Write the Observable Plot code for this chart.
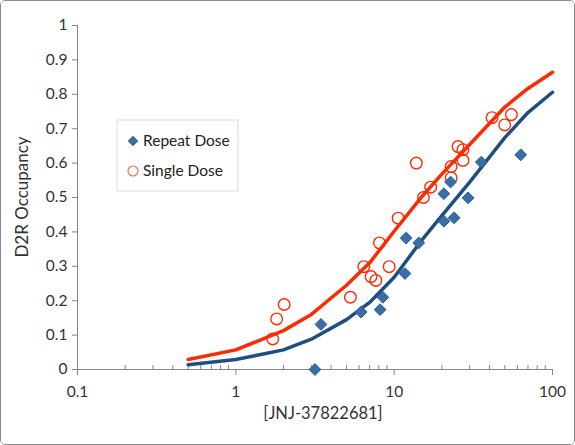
<!DOCTYPE html>
<html>
<head>
<meta charset="utf-8">
<script src="https://cdn.jsdelivr.net/npm/d3@7"></script>
<script src="https://cdn.jsdelivr.net/npm/@observablehq/plot@0.6"></script>
<style>
  html, body { margin: 0; padding: 0; background: #fff; }
  #chart { width: 575px; height: 445px; box-sizing: border-box; border: 1px solid #8a8a8a; border-radius: 5px; overflow: hidden; background: #fff; }
  #chart svg { display: block; }
</style>
</head>
<body>
<div id="chart"></div>
<script>
// Observed data: Repeat Dose (concentration, occupancy)
const repeatConc = [3.16, 3.45, 6.18, 8.15, 8.48, 11.7, 11.9, 14.3, 20.6, 23.9, 20.6, 22.7, 29.3, 35.5, 63];
const repeatOcc  = [0.0, 0.131, 0.167, 0.174, 0.21, 0.279, 0.382, 0.368, 0.431, 0.441, 0.511, 0.545, 0.499, 0.603, 0.624];

// Observed data: Single Dose
const singleConc = [1.71, 1.81, 2.02, 5.29, 6.43, 7.15, 7.66, 8.07, 9.3, 10.6, 13.8, 15.3, 17.0, 22.9, 22.9, 25.3, 27.2, 27.2, 41.5, 49.9, 55];
const singleOcc  = [0.089, 0.147, 0.189, 0.21, 0.299, 0.27, 0.259, 0.368, 0.299, 0.44, 0.6, 0.5, 0.53, 0.59, 0.557, 0.648, 0.639, 0.608, 0.732, 0.711, 0.741];

// Fitted curves
const curveConc      = [0.5, 1, 2, 3, 5, 7, 10, 15, 20, 30, 50, 70, 100];
const curveRepeatOcc = [0.014, 0.029, 0.057, 0.088, 0.145, 0.195, 0.268, 0.377, 0.447, 0.545, 0.674, 0.747, 0.806];
const curveSingleOcc = [0.029, 0.057, 0.113, 0.16, 0.245, 0.31, 0.402, 0.503, 0.568, 0.654, 0.763, 0.817, 0.864];

// Axis ticks
const xMajorTicks = [0.1, 1, 10, 100];
const xMajorLabels = ["0.1", "1", "10", "100"];
const xMinorTicks = [0.2,0.3,0.4,0.5,0.6,0.7,0.8,0.9, 2,3,4,5,6,7,8,9, 20,30,40,50,60,70,80,90];
const yTicks = [0, 0.1, 0.2, 0.3, 0.4, 0.5, 0.6, 0.7, 0.8, 0.9, 1];
const yLabels = ["0", "0.1", "0.2", "0.3", "0.4", "0.5", "0.6", "0.7", "0.8", "0.9", "1"];

const seriesNames = ["Repeat Dose", "Single Dose"];
const xTitle = "[JNJ-37822681]";
const yTitle = "D2R Occupancy";

const repeatData = repeatConc.map((c, i) => ({conc: c, occ: repeatOcc[i]}));
const singleData = singleConc.map((c, i) => ({conc: c, occ: singleOcc[i]}));
const repeatCurve = curveConc.map((c, i) => ({conc: c, occ: curveRepeatOcc[i]}));
const singleCurve = curveConc.map((c, i) => ({conc: c, occ: curveSingleOcc[i]}));

const blue = "#1f4e80";
const red = "#ff2a00";
const axisGray = "#868686";
const textColor = "#333333";
const font = "Lato, 'Open Sans', sans-serif";

const chart = Plot.plot({
  width: 573,
  height: 443,
  marginLeft: 76,
  marginRight: 22,
  marginTop: 24,
  marginBottom: 75,
  style: {fontFamily: font, fontSize: "15.5px", color: textColor, background: "#fff"},
  x: {type: "log", domain: [0.1, 100]},
  y: {domain: [0, 1]},
  marks: [
    Plot.ruleY([0], {stroke: axisGray, strokeWidth: 1}),
    Plot.ruleX([0.1], {stroke: axisGray, strokeWidth: 1}),
    Plot.ruleX(xMinorTicks, {y1: 0, y2: 0, insetTop: -4, stroke: axisGray, strokeWidth: 1}),
    Plot.axisY({ticks: yTicks, tickFormat: (d) => yLabels[yTicks.indexOf(d)], tickSize: 5, tickPadding: 5, stroke: axisGray, fill: textColor, fontSize: 15.5, label: null}),
    Plot.axisX({ticks: xMajorTicks, tickFormat: (d) => xMajorLabels[xMajorTicks.indexOf(d)], tickSize: 6, tickPadding: 10, stroke: axisGray, fill: textColor, fontSize: 15.5, label: null}),
    Plot.line(repeatCurve, {x: "conc", y: "occ", stroke: blue, strokeWidth: 3.5, curve: "linear"}),
    Plot.line(singleCurve, {x: "conc", y: "occ", stroke: red, strokeWidth: 3.5, curve: "linear"}),
    Plot.dot(singleData, {x: "conc", y: "occ", r: 5.8, stroke: red, strokeWidth: 1.4, fill: "none"}),
    Plot.dot(repeatData, {x: "conc", y: "occ", r: 5.3, symbol: "diamond2", fill: "#3a6ea8", stroke: "#2c5a8c", strokeWidth: 1})
  ]
});

const svg = d3.select(chart);
// Axis titles
svg.append("text")
  .attr("x", 322).attr("y", 418)
  .attr("text-anchor", "middle")
  .attr("fill", textColor)
  .style("font-family", font).style("font-size", "16.5px")
  .text(xTitle);
svg.append("text")
  .attr("transform", "translate(27,196) rotate(-90)")
  .attr("text-anchor", "middle")
  .attr("fill", textColor)
  .style("font-family", font).style("font-size", "17px")
  .text(yTitle);

// Legend
const lg = svg.append("g").attr("transform", "translate(116,119)");
lg.append("rect").attr("x", 0).attr("y", 0).attr("width", 121).attr("height", 71)
  .attr("fill", "#fff").attr("stroke", "#d9d9d9");
const symDiamond = d3.symbol(d3.symbolDiamond2, Math.PI * 4.2 * 4.2)();
lg.append("path").attr("d", symDiamond).attr("transform", "translate(16,21)")
  .attr("fill", "#3a6ea8").attr("stroke", "#2c5a8c");
lg.append("circle").attr("cx", 16).attr("cy", 51).attr("r", 5)
  .attr("fill", "none").attr("stroke", "#ff6a5a").attr("stroke-width", 1.2);
lg.append("text").attr("x", 26).attr("y", 21).attr("dy", "0.35em")
  .attr("text-anchor", "start")
  .attr("fill", "#222").style("font-family", font).style("font-size", "15.5px").text(seriesNames[0]);
lg.append("text").attr("x", 26).attr("y", 51).attr("dy", "0.35em")
  .attr("text-anchor", "start")
  .attr("fill", "#222").style("font-family", font).style("font-size", "15.5px").text(seriesNames[1]);

document.getElementById("chart").appendChild(chart);
</script>
</body>
</html>
